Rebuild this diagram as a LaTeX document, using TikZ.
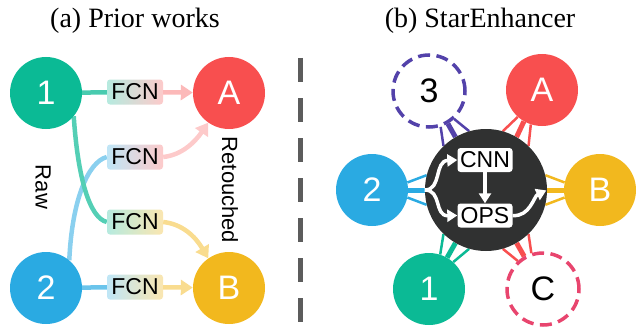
\documentclass[tikz,border=0pt]{standalone}
\usepackage{fontspec}
\setmainfont{Liberation Serif}
\setsansfont{Liberation Sans}
\usetikzlibrary{arrows.meta, positioning, backgrounds}

\definecolor{pgreen}{RGB}{11,186,149}
\definecolor{pred}{RGB}{248,79,79}
\definecolor{pblue}{RGB}{42,170,226}
\definecolor{pyellow}{RGB}{242,184,30}
\definecolor{ppurple}{RGB}{83,66,170}
\definecolor{ppink}{RGB}{232,69,110}
\definecolor{pdark}{RGB}{48,49,49}
\definecolor{pgray}{RGB}{92,92,92}

\tikzset{
  img/.style={circle, minimum size=72pt, inner sep=0pt, text=white,
    font=\sffamily\fontsize{34}{34}\selectfont},
  ghost/.style={img, fill=white, text=black, line width=3.5pt,
    dash pattern=on 12pt off 6.5pt},
  fcn/.style={rounded corners=3pt, minimum width=56pt, minimum height=25pt,
    inner sep=0pt, font=\sffamily\fontsize{23}{23}\selectfont},
  op/.style={fill=white, rounded corners=3pt, minimum width=55pt,
    minimum height=24pt, inner sep=0pt, font=\sffamily\fontsize{23}{23}\selectfont},
  side/.style={rotate=-90, font=\sffamily\fontsize{22}{22}\selectfont},
  title/.style={anchor=base, font=\fontsize{28}{28}\selectfont},
  wire/.style={line width=4.5pt},
  link/.style={wire, -{Triangle[length=12pt,width=15pt]}},
  flow/.style={white, line width=3.5pt, -{Triangle[length=10pt,width=12pt]}},
}

\begin{document}
\begin{tikzpicture}[x=1pt, y=-1pt]
\useasboundingbox (0,0) rectangle (637,329);

% titles
\node[title] (ta) at (135,28) {(a) Prior works};
\node[title] (tb) at (480,28) {(b) StarEnhancer};

% (a) prior works
\node[img, fill=pgreen] (l1) at (46,93) {1};
\node[img, fill=pblue] (l2) at (46,288) {2};
\node[img, fill=pred] (lA) at (229,93) {A};
\node[img, fill=pyellow] (lB) at (229,288) {B};

\node[fcn, left color=pgreen!30, right color=pred!30] (f1a) at (135,92) {FCN};
\node[fcn, left color=pblue!30, right color=pred!30] (f2a) at (135,157) {FCN};
\node[fcn, left color=pgreen!30, right color=pyellow!35] (f1b) at (135,222) {FCN};
\node[fcn, left color=pblue!30, right color=pyellow!35] (f2b) at (135,287) {FCN};

\node[side] (raw) at (43,187) {Raw};
\node[side] (ret) at (230,190) {Retouched};

\begin{scope}[on background layer]
\draw[wire, pblue!55] (l2.50) .. controls (72,200) and (88,162) .. (f2a.west);
\draw[wire, pgreen!70] (l1.320) .. controls (78,180) and (90,218) .. (f1b.west);
\end{scope}
\draw[wire, pgreen!75] (l1) -- (f1a);
\draw[wire, pblue!70] (l2) -- (f2b);
\draw[link, pred!40] (f1a) -- (lA);
\draw[link, pred!30] (f2a.east) .. controls (182,155) and (195,142) .. (lA.235);
\draw[link, pyellow!50] (f1b.east) .. controls (182,224) and (195,236) .. (lB.125);
\draw[link, pyellow!50] (f2b) -- (lB);

% divider
\draw[pgray, line width=5pt, dash pattern=on 24pt off 16pt] (300,58) -- (300,329);

% (b) StarEnhancer
\node[circle, fill=pdark, minimum size=122pt, inner sep=0pt] (core) at (486,190) {};
\node[op] (cnn) at (485,160) {CNN};
\node[op] (ops) at (485,215.5) {OPS};

\node[img, fill=pred] (rA) at (542,90) {A};
\node[img, fill=pyellow] (rB) at (600,190) {B};
\node[img, fill=pblue] (r2) at (372,190) {2};
\node[img, fill=pgreen] (r1) at (429,289) {1};
\node[ghost, draw=ppurple] (r3) at (429,91) {3};
\node[ghost, draw=ppink] (rC) at (543,289) {C};

\begin{scope}[on background layer]
\foreach \n/\a/\c in {rB/0/pyellow, rA/60/pred, r3/120/ppurple, r2/180/pblue, r1/240/pgreen, rC/300/pred}{
  \pgfmathtruncatemacro\b{mod(\a+180,360)}
  \pgfmathtruncatemacro\ap{mod(\a+14,360)}
  \pgfmathtruncatemacro\am{mod(\a+346,360)}
  \pgfmathtruncatemacro\bp{mod(\b+348,360)}
  \pgfmathtruncatemacro\bm{mod(\b+12,360)}
  \draw[\c, line width=2.5pt] (core.\ap) -- (\n.\bp);
  \draw[\c, line width=5pt] (core.\a) -- (\n.\b);
  \draw[\c, line width=2.5pt] (core.\am) -- (\n.\bm);
}
\end{scope}

\draw[flow] (cnn) -- (ops);
\draw[flow] (core.west) .. controls (442,190) and (434,161) .. (cnn.west);
\draw[flow] (core.west) .. controls (442,190) and (434,216) .. (ops.west);
\draw[flow, shorten >=1pt] (ops.east) .. controls (530,217) and (534,196) .. (core.east);
\end{tikzpicture}
\end{document}
